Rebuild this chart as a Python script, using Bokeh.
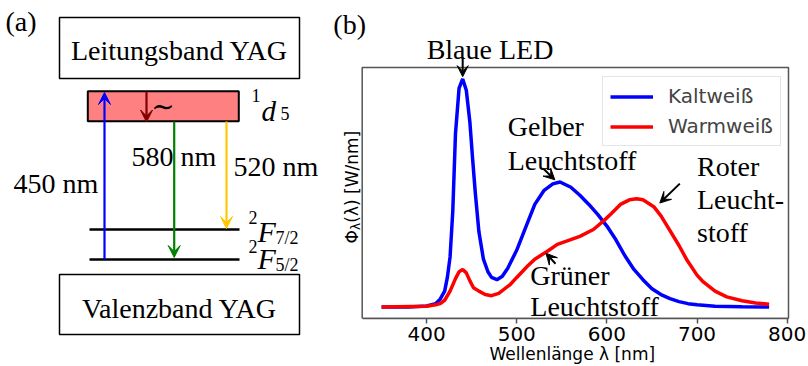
from math import pi
from bokeh.plotting import figure
from bokeh.layouts import row
from bokeh.models import Range1d, Label, Arrow, VeeHead, FixedTicker, Legend, LegendItem, Title
from bokeh.embed import file_html
from bokeh.resources import INLINE
from bokeh.core.properties import value

# ---------------- data: panel (b) spectra ----------------
wl_kalt = [350, 380, 400, 410, 415, 420, 423, 426, 429, 432, 436, 440, 444, 448, 451, 454,
           458, 463, 468, 472, 478, 484, 490, 500, 510, 520, 530, 540, 548, 560, 570, 580,
           590, 600, 610, 620, 630, 640, 650, 660, 670, 680, 690, 700, 720, 750, 780]
phi_kalt = [0.0, 0.0, 0.005, 0.015, 0.035, 0.07, 0.13, 0.22, 0.42, 0.76, 0.96, 1.0, 0.95, 0.81,
            0.65, 0.50, 0.33, 0.21, 0.155, 0.13, 0.12, 0.135, 0.17, 0.25, 0.35, 0.45, 0.51,
            0.54, 0.548, 0.525, 0.49, 0.45, 0.405, 0.355, 0.295, 0.225, 0.165, 0.12, 0.08,
            0.055, 0.037, 0.024, 0.015, 0.01, 0.004, 0.001, 0.0]
wl_warm = [350, 400, 410, 415, 420, 426, 432, 436, 440, 444, 448, 452, 458, 465, 472, 480,
           493, 500, 512, 520, 534, 545, 556, 570, 585, 597, 605, 615, 625, 633, 640, 652,
           660, 670, 680, 689, 700, 707, 720, 733, 750, 765, 780]
phi_warm = [0.0, 0.004, 0.01, 0.015, 0.03, 0.07, 0.125, 0.155, 0.165, 0.15, 0.115, 0.085,
            0.07, 0.055, 0.05, 0.06, 0.10, 0.13, 0.18, 0.21, 0.245, 0.275, 0.29, 0.31, 0.34,
            0.38, 0.41, 0.45, 0.47, 0.475, 0.47, 0.44, 0.40, 0.335, 0.27, 0.205, 0.14, 0.11,
            0.07, 0.045, 0.028, 0.018, 0.012]
series_names = ["Kaltweiß", "Warmweiß"]
x_ticks = [400, 500, 600, 700, 800]
x_label = "Wellenlänge λ [nm]"
y_label_parts = ["Φ", "λ", "(λ) [W/nm]"]

# plotted area of panel (b) in data units
X0, X1 = 328.5, 801.5
Y0, Y1 = -0.05, 1.05

# annotations of panel (b): text lines (x, y in data units) and arrows
ann_lines = [("Blaue LED", 400, 1.10), ("Gelber", 490, 0.76), ("Leuchtstoff", 490, 0.61),
             ("Roter", 700, 0.584), ("Leucht-", 700, 0.442), ("stoff", 700, 0.296),
             ("Grüner", 515, 0.109), ("Leuchtstoff", 515, -0.029), ("(b)", 296.5, 1.207)]
ann_arrows = [(440, 1.095, 440, 1.01), (529.3, 0.607, 542.2, 0.558),
              (680.9, 0.541, 658.7, 0.456), (543, 0.19, 532.4, 0.236)]

# ---------------- panel (a): energy scheme (schematic layout, pixel units) ----------------
band_names = ["Leitungsband YAG", "Valenzband YAG"]
band_l, band_r = [59, 59], [299, 299]
band_t, band_b = [17, 274], [78, 334]
band_text_y = [57, 315]
level_y = [229, 259]
d_box = dict(left=87.3, right=238.3, top=90.7, bottom=120.7)
trans_labels = ["450 nm", "580 nm", "520 nm"]
trans_label_pos = [(13, 190), (131, 162.7), (233, 173.3)]
transitions = [  # x, y_start, y_end, colour
    (104, 259, 92, "#0000ff"),
    (146, 91, 121.5, "#800000"),
    (173.7, 121, 257, "#008000"),
    (226, 121, 228, "#ffc800"),
]

SERIF = "Liberation Serif"
SANS = "DejaVu Sans"
FRAME = "#555555"
DY = 7  # baseline correction in pixels

pa = figure(width=320, height=366, x_range=Range1d(0, 320), y_range=Range1d(366, 0),
            output_backend="svg", toolbar_location=None, x_axis_location=None,
            y_axis_location=None, min_border=0, outline_line_color=None)
pa.min_border_left = pa.min_border_right = pa.min_border_top = pa.min_border_bottom = 0
pa.grid.visible = False


def up(ys):
    return [y - DY for y in ys]


pa.quad(left=band_l, right=band_r, top=band_t, bottom=band_b, fill_color="white",
        line_color="black", line_width=1.5)
pa.text(x=[(a + b) / 2 for a, b in zip(band_l, band_r)], y=up(band_text_y), text=band_names,
        text_font=value(SERIF), text_font_size="28px", text_align="center",
        text_baseline="alphabetic", text_color="black")
pa.quad(fill_color="#ff8080", line_color="black", line_width=2, **d_box)
pa.segment(x0=[89, 89], x1=[239, 239], y0=level_y, y1=level_y, line_color="black", line_width=2.3)
for x, y0, y1, c in transitions:
    pa.add_layout(Arrow(x_start=x, y_start=y0, x_end=x, y_end=y1, line_color=c, line_width=2.2,
                        end=VeeHead(size=12, fill_color=c, line_color=c, line_width=1)))
pa.text(x=[p[0] for p in trans_label_pos], y=up([p[1] for p in trans_label_pos]),
        text=trans_labels, text_font=value(SERIF), text_font_size="28px",
        text_baseline="alphabetic", text_color="black")
pa.text(x=[5], y=up([28]), text=["(a)"], text_font=value(SERIF), text_font_size="28px",
        text_baseline="alphabetic")
pa.text(x=[162.5], y=[106], text=["∼"], text_font=value("DejaVu Serif"), text_font_size="28px",
        text_align="center", text_baseline="middle")
# term symbols
pa.text(x=[251, 248, 248], y=up([102, 224, 253.3]), text=["1", "2", "2"], text_font=value(SERIF),
        text_font_size="18px", text_baseline="alphabetic")
pa.text(x=[261], y=up([117.3]), text=["d"], text_font=value(SERIF), text_font_style="italic",
        text_font_size="29px", text_baseline="alphabetic")
pa.text(x=[257, 257], y=up([238.3, 265]), text=["F", "F"], text_font=value(SERIF),
        text_font_style="italic", text_font_size="30px", text_baseline="alphabetic")
pa.text(x=[280, 275, 275], y=up([120, 244, 271]), text=["5", "7/2", "5/2"],
        text_font=value(SERIF), text_font_size="18px", text_baseline="alphabetic")

# ---------------- panel (b) ----------------
# frame spans the canvas from pixel x=320..792, y=0..318; ranges chosen so that the
# plotted box X0..X1 / Y0..Y1 sits at pixels 361.7..788 / 67..318
PXN = 0.90127   # pixels per nm
PXV = 228.18    # pixels per unit of flux
pb = figure(frame_width=472, frame_height=318,
            x_range=Range1d(X0 - 41.7 / PXN, X1 + 4 / PXN),
            y_range=Range1d(Y0, Y1 + 67 / PXV),
            output_backend="svg", toolbar_location=None, y_axis_location=None,
            min_border_left=0, min_border_right=16, min_border_top=0, min_border_bottom=48)
pb.grid.visible = False
pb.outline_line_color = None
ax = pb.xaxis[0]
ax.bounds = (X0, X1)
ax.ticker = FixedTicker(ticks=x_ticks)
ax.axis_line_color = FRAME
ax.axis_line_width = 1.5
ax.major_tick_line_color = FRAME
ax.major_tick_line_width = 1.5
ax.major_tick_out = 5
ax.major_tick_in = 0
ax.minor_tick_out = 0
ax.minor_tick_in = 0
ax.major_label_text_font = SANS
ax.major_label_text_font_size = "20px"
ax.major_label_text_color = "black"
ax.major_label_standoff = 3

# x-axis title, centred under the plotted box (not under the whole frame)
pb.add_layout(Title(text=x_label, align="left", offset=169, standoff=-3, text_font=SANS,
                    text_font_size="17px", text_font_style="normal", text_color="black"),
              "below")

for fig in (pa, pb):
    if "frame_align" in fig.properties():
        fig.frame_align = False

# box around the plotted area
pb.quad(left=[X0], right=[X1], bottom=[Y0], top=[Y1], fill_color=None, line_color=FRAME,
        line_width=1.5)

rk = pb.line(wl_kalt, phi_kalt, line_color="#0000ff", line_width=3.5)
rw = pb.line(wl_warm, phi_warm, line_color="#ff0000", line_width=3.5)

leg = Legend(items=[LegendItem(label=series_names[0], renderers=[rk]),
                    LegendItem(label=series_names[1], renderers=[rw])],
             location=(282, 172), margin=0, padding=7, spacing=6, glyph_width=43,
             glyph_height=23, label_height=23, label_standoff=15, label_text_font=SANS,
             label_text_font_size="20px", border_line_color="#cccccc", border_line_width=1,
             background_fill_alpha=0.8)
pb.add_layout(leg)

# y-axis label, written upwards with a subscript lambda
ylab_x = X0 - 9.7 / PXN
ylab_y0 = Y0 + (318 - 243) / PXV
pb.text(x=[ylab_x], y=[ylab_y0], text=[y_label_parts[0]], angle=pi / 2, text_font=value(SANS),
        text_font_size="17px", text_baseline="middle", text_align="left", text_color="black")
pb.text(x=[ylab_x + 3.5 / PXN], y=[ylab_y0 + 13.4 / PXV], text=[y_label_parts[1]], angle=pi / 2,
        text_font=value(SANS), text_font_size="12px", text_baseline="middle", text_align="left",
        text_color="black")
pb.text(x=[ylab_x], y=[ylab_y0 + 20.8 / PXV], text=[y_label_parts[2]], angle=pi / 2,
        text_font=value(SANS), text_font_size="17px", text_baseline="middle", text_align="left",
        text_color="black")

for t, x, y in ann_lines:
    pb.add_layout(Label(x=x, y=y + DY / PXV, text=t, text_font=SERIF, text_font_size="28px",
                        text_baseline="alphabetic", text_align="left", text_color="black"))
for x0, y0, x1, y1 in ann_arrows:
    pb.add_layout(Arrow(x_start=x0, y_start=y0, x_end=x1, y_end=y1, line_color="black",
                        line_width=2, end=VeeHead(size=11, fill_color="black", line_color="black")))

layout = row(pa, pb)
open("out.html", "w").write(file_html(layout, INLINE))
